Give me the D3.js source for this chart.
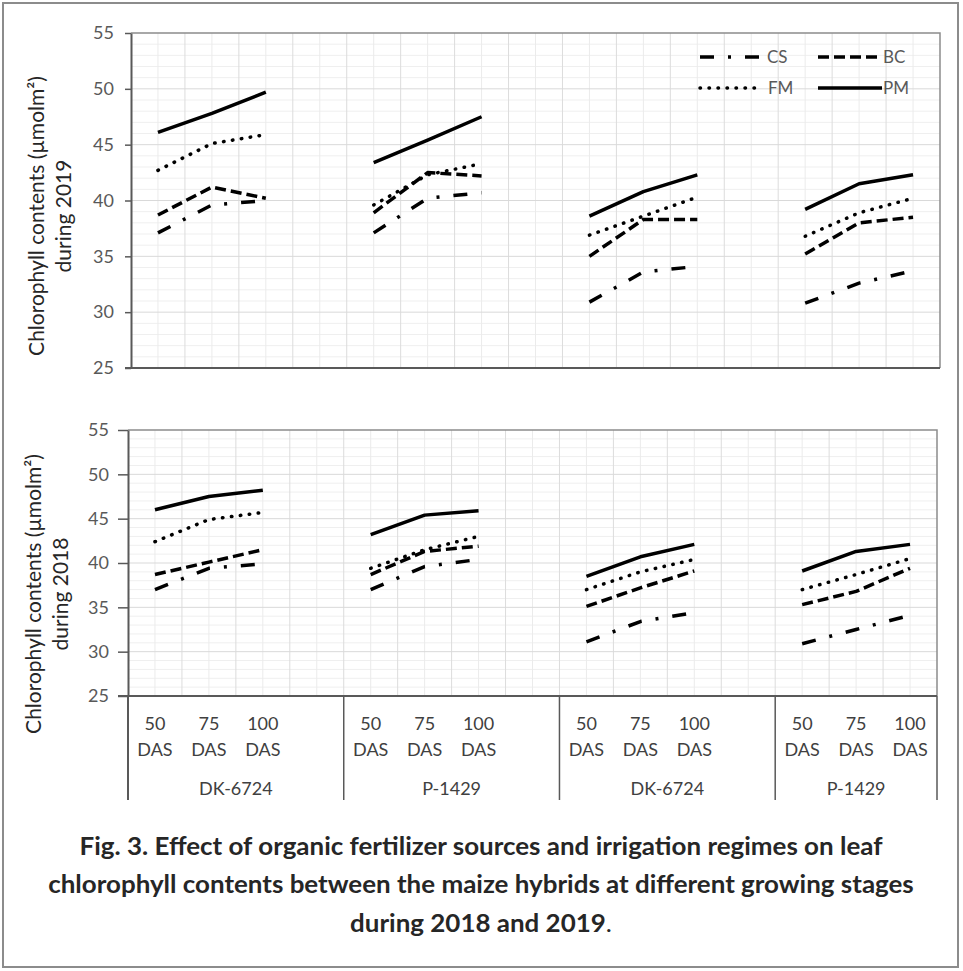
<!DOCTYPE html>
<html>
<head>
<meta charset="utf-8">
<script src="https://cdn.jsdelivr.net/npm/d3@7"></script>
<style>
  body { margin: 0; background: #fff; }
  svg { display: block; font-family: Lato, "Noto Sans", sans-serif; }
</style>
</head>
<body>
<div id="chart"></div>
<script>
// categories
const groups = ["DK-6724", "P-1429", "DK-6724", "P-1429"];
const stages = ["50 DAS", "75 DAS", "100 DAS"];
const seriesNames = ["CS", "BC", "FM", "PM"];
const yTicks = [25, 30, 35, 40, 45, 50, 55];

// 2019 values (top panel), per group: 50, 75, 100 DAS
const cs2019 = [37.1, 39.6, 40.0, 37.1, 40.2, 40.7, 30.9, 33.6, 34.1, 30.8, 32.6, 33.7];
const bc2019 = [38.7, 41.2, 40.2, 38.9, 42.5, 42.2, 35.0, 38.3, 38.3, 35.2, 38.0, 38.5];
const fm2019 = [42.7, 45.1, 45.9, 39.6, 42.3, 43.3, 36.9, 38.6, 40.3, 36.8, 38.9, 40.2];
const pm2019 = [46.1, 47.8, 49.7, 43.4, 45.4, 47.5, 38.6, 40.8, 42.3, 39.2, 41.5, 42.3];

// 2018 values (bottom panel)
const cs2018 = [37.0, 39.4, 39.9, 37.0, 39.6, 40.4, 31.1, 33.4, 34.4, 30.9, 32.5, 34.1];
const bc2018 = [38.7, 40.1, 41.5, 38.7, 41.3, 41.9, 35.1, 37.2, 39.1, 35.3, 36.8, 39.4];
const fm2018 = [42.4, 44.9, 45.7, 39.4, 41.5, 43.0, 37.0, 39.0, 40.4, 37.0, 38.7, 40.5];
const pm2018 = [46.0, 47.5, 48.2, 43.2, 45.4, 45.9, 38.5, 40.7, 42.1, 39.1, 41.3, 42.1];

const dashes = { CS: "14,14,3,14", BC: "11,5", FM: "0.5,8.5", PM: null };

const width = 963, height = 971;
const svg = d3.select("#chart").append("svg")
    .attr("width", width)
    .attr("height", height);

svg.append("rect").attr("width", width).attr("height", height).attr("fill", "#fff");
// outer frame
svg.append("rect")
    .attr("x", 3).attr("y", 3)
    .attr("width", 955).attr("height", 964)
    .attr("fill", "none")
    .attr("stroke", "#8c8c8c")
    .attr("stroke-width", 2);

// slot layout: 3 stages per group with an empty slot between groups
const slots = [];
groups.forEach((g, gi) => {
    stages.forEach((s, si) => slots.push({ g: gi, s: si }));
    if (gi < groups.length - 1) slots.push({ g: gi, s: null });
});
const slotIndex = (gi, si) => slots.findIndex(d => d.g === gi && d.s === si);

function drawPanel(p) {
    const x = d3.scaleBand().domain(d3.range(slots.length)).range([p.x0, p.x1]);
    const y = d3.scaleLinear().domain([25, 55]).range([p.y1, p.y0]);
    const g = svg.append("g");

    // minor horizontal grid
    g.selectAll(".hmin").data(d3.range(26, 55).filter(v => v % 5 !== 0)).join("line")
        .attr("x1", p.x0).attr("x2", p.x1)
        .attr("y1", d => y(d)).attr("y2", d => y(d))
        .attr("stroke", "#efefef").attr("stroke-width", 1);

    // vertical grid, boundaries and centres of each slot
    const vx = [];
    d3.range(slots.length).forEach(i => {
        vx.push({ x: x(i), major: true });
        vx.push({ x: x(i) + x.bandwidth() / 2, major: false });
    });
    g.selectAll(".vg").data(vx.filter(d => d.x > p.x0 + 1)).join("line")
        .attr("x1", d => d.x).attr("x2", d => d.x)
        .attr("y1", p.y0).attr("y2", p.y1)
        .attr("stroke", d => d.major ? "#dcdcdc" : "#ebebeb").attr("stroke-width", 1);

    // major horizontal grid
    g.selectAll(".hmaj").data(yTicks.slice(1, -1)).join("line")
        .attr("x1", p.x0).attr("x2", p.x1)
        .attr("y1", d => y(d)).attr("y2", d => y(d))
        .attr("stroke", "#d9d9d9").attr("stroke-width", 1);

    // plot border top/right
    g.append("path")
        .attr("d", `M${p.x0},${p.y0}H${p.x1}V${p.y1}`)
        .attr("fill", "none").attr("stroke", "#8c8c8c").attr("stroke-width", 1.5);

    // y axis
    const ax = g.append("g")
        .attr("transform", `translate(${p.x0},0)`)
        .call(d3.axisLeft(y).tickValues(yTicks).tickSize(p.tick).tickPadding(p.pad).tickSizeOuter(0));
    ax.select(".domain").attr("stroke", "#595959").attr("stroke-width", 2);
    ax.selectAll(".tick line").attr("stroke", "#595959").attr("stroke-width", 1.5);
    ax.selectAll(".tick text").attr("fill", "#595959").attr("font-size", 18)
        .attr("font-family", "Lato, sans-serif");

    // x axis baseline
    g.append("line")
        .attr("x1", p.x0 - p.tick).attr("x2", p.x1)
        .attr("y1", p.y1).attr("y2", p.y1)
        .attr("stroke", "#595959").attr("stroke-width", 2);

    // y axis title
    const tt = g.append("text")
        .attr("transform", `translate(${p.titleX},${p.titleY}) rotate(-90)`)
        .attr("text-anchor", "middle")
        .attr("fill", "#262626")
        .attr("font-size", 18);
    const t1 = tt.append("tspan").attr("x", 0).attr("dy", 0).text("Chlorophyll contents (µmolm²)");
    tt.append("tspan").attr("x", 0).attr("dy", 27).text(p.titleLine2);
    // fit first line to the reference length
    const tw = t1.node().getComputedTextLength();
    tt.attr("font-size", Math.min(21, 18 * 288 / tw));

    // series lines
    const line = d3.line().x(d => x(d.slot) + x.bandwidth() / 2).y(d => y(d.v));
    p.series.forEach((vals, k) => {
        const name = seriesNames[k];
        groups.forEach((gr, gi) => {
            const pts = stages.map((s, si) => ({ slot: slotIndex(gi, si), v: vals[gi * stages.length + si] }));
            g.append("path")
                .datum(pts)
                .attr("d", line)
                .attr("fill", "none")
                .attr("stroke", "#000")
                .attr("stroke-width", 3.5)
                .attr("stroke-linecap", name === "FM" ? "round" : "butt")
                .attr("stroke-linejoin", "round")
                .attr("stroke-dasharray", dashes[name]);
        });
    });

    return { x, y };
}

drawPanel({
    x0: 131, x1: 940, y0: 33, y1: 368, tick: 6, pad: 11,
    titleX: 44, titleY: 216, titleLine2: "during 2019",
    series: [cs2019, bc2019, fm2019, pm2019]
});

const bottom = drawPanel({
    x0: 128, x1: 937, y0: 430, y1: 696, tick: 10, pad: 9,
    titleX: 41, titleY: 594, titleLine2: "during 2018",
    series: [cs2018, bc2018, fm2018, pm2018]
});

// category axis labels under bottom panel
const bx = bottom.x;
const catG = svg.append("g").attr("fill", "#404040").attr("font-size", 18).attr("text-anchor", "middle");
slots.forEach((d, i) => {
    if (d.s === null) return;
    const parts = stages[d.s].split(" ");
    const cx = bx(i) + bx.bandwidth() / 2;
    catG.append("text").attr("x", cx).attr("y", 730).text(parts[0]);
    catG.append("text").attr("x", cx).attr("y", 756).text(parts[1]);
});
const bounds = [];
groups.forEach((gr, gi) => {
    const idx = slots.map((d, i) => d.g === gi ? i : -1).filter(i => i >= 0);
    const a = bx(idx[0]), b = bx(idx[idx.length - 1]) + bx.bandwidth();
    bounds.push(a);
    if (gi === groups.length - 1) bounds.push(b);
    catG.append("text").attr("x", (a + b) / 2).attr("y", 795).text(gr);
});
svg.selectAll(".div").data(bounds).join("line")
    .attr("x1", d => d).attr("x2", d => d)
    .attr("y1", 696).attr("y2", 800)
    .attr("stroke", "#595959").attr("stroke-width", (d, i) => i === 0 ? 2 : 1.5);

// legend
const legend = [
    { name: "CS", x: 700, y: 57, len: 67 },
    { name: "BC", x: 818, y: 57, len: 64 },
    { name: "FM", x: 700, y: 88, len: 60 },
    { name: "PM", x: 818, y: 88, len: 64 }
];
legend.forEach(l => {
    svg.append("line")
        .attr("x1", l.x).attr("x2", l.x + l.len)
        .attr("y1", l.y).attr("y2", l.y)
        .attr("stroke", "#000").attr("stroke-width", 3.5)
        .attr("stroke-linecap", l.name === "FM" ? "round" : "butt")
        .attr("stroke-dasharray", dashes[l.name]);
    svg.append("text")
        .attr("x", l.name === "FM" ? 768 : l.x + (l.name === "CS" ? 67 : 65))
        .attr("y", l.y + 6)
        .attr("fill", "#595959").attr("font-size", 17)
        .text(l.name);
});

// caption (condensed horizontally to look like the narrow original face)
const capLines = [
    "Fig. 3. Effect of organic fertilizer sources and irrigation regimes on leaf",
    "chlorophyll contents between the maize hybrids at different growing stages",
    "during 2018 and 2019"
];
const capWrap = svg.append("g");
const cap = capWrap.append("g").attr("text-anchor", "middle").attr("fill", "#262626")
    .attr("font-weight", "bold").attr("font-size", 24);
const capT = capLines.map((t, i) => cap.append("text").attr("x", 0).attr("y", 855 + i * 38.5).text(t));
capT[2].append("tspan").attr("font-weight", "normal").text(".");
const w2 = capT[1].node().getComputedTextLength();
capWrap.attr("transform", `translate(481,0) scale(${866 / w2},1)`);
</script>
</body>
</html>
